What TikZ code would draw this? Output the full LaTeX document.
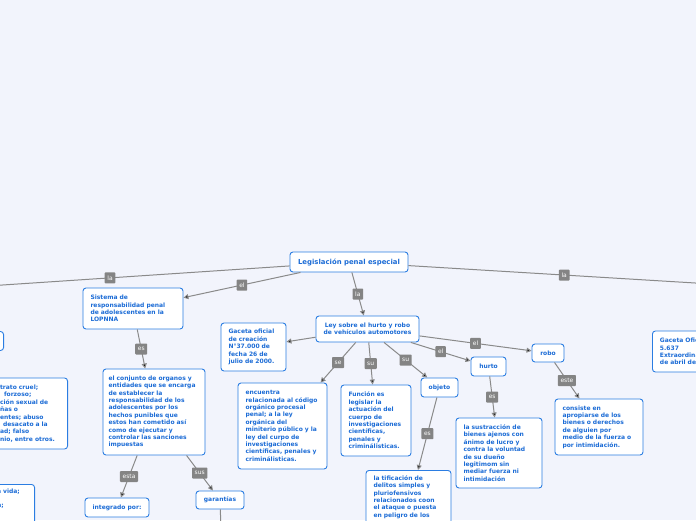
\documentclass[tikz,border=0pt]{standalone}
\usepackage{fontspec}
\setmainfont{DejaVu Sans}
\usetikzlibrary{arrows.meta}
\definecolor{bgcol}{RGB}{242,244,252}
\definecolor{boxblue}{RGB}{43,125,226}
\definecolor{txtblue}{RGB}{28,108,214}
\definecolor{linegray}{RGB}{138,138,138}
\definecolor{lblgray}{RGB}{132,132,132}

\begin{document}
\begin{tikzpicture}[x=1pt,y=-1pt,
                    main node/.style={draw=boxblue,fill=white,rounded corners=3pt,line width=0.9pt,
                      text=txtblue,font=\fontsize{6}{7.4}\selectfont\bfseries,align=left,
                      inner xsep=7.5pt,inner ysep=4pt},
                    label node/.style={fill=lblgray,text=white,font=\fontsize{6}{6.5}\selectfont,
                      inner xsep=2.6pt,inner ysep=1.8pt,minimum height=11pt,rounded corners=0.8pt},
                    link/.style={draw=linegray,line width=1pt},
                    head arrow/.style={-{Triangle[length=5pt,width=5pt]}}]

  \useasboundingbox (0,0) rectangle (696,520);
  \fill[bgcol] (0,0) rectangle (696,520);
  \clip (0,0) rectangle (696,520);

  \node[main node,align=center,minimum width=118pt,minimum height=20pt,
        font=\fontsize{6.9}{8}\selectfont\bfseries] (root) at (349,262) {Legislación penal especial};
  \node[main node,text width=85pt,minimum height=41pt] (sis) at (133,308.5)
    {Sistema de\\responsabilidad penal\\de adolescentes en la\\LOPNNA};
  \node[main node,align=center,minimum width=103pt,minimum height=26pt] (ley) at (367.5,329)
    {Ley sobre el hurto y robo\\de vehículos automotores};
  \node[main node,text width=50pt,minimum height=48pt] (gac) at (253.5,347)
    {Gaceta oficial\\de creación\\N°37.000 de\\fecha 26 de\\julio de 2000.};
  \node[main node,text width=85pt,minimum height=41pt,anchor=west] (gacext) at (652,351.5)
    {Gaceta Oficial\\5.637\\Extraordinaria\\de abril de};
  \node[main node,minimum width=40pt,minimum height=19pt,anchor=east] (leftbox) at (4,341) {};
  \node[main node,text width=60pt,minimum height=71pt,anchor=east] (delitos) at (68,413.5)
    {trato cruel;\\\hspace*{4pt}forzoso;\\ción sexual de\\ñas o\\entes; abuso\\\hspace*{3pt}desacato a la\\ad; falso\\nio, entre otros.};
  \node[main node,text width=30pt,anchor=north east] (vida) at (35,484)
    {a vida;\\\mbox{}\\n;\rule[-20pt]{0pt}{0pt}};
  \node[main node,text width=91pt,inner xsep=5.5pt,minimum height=86pt] (conj) at (154,412)
    {el conjunto de organos y\\entidades que se encarga\\de establecer la\\responsabilidad de los\\adolescentes por los\\hechos punibles que\\estos han cometido así\\como de ejecutar y\\controlar las sanciones\\impuestas};
  \node[main node,text width=74pt,minimum height=86pt] (enc) at (282.5,426)
    {encuentra\\relacionada al código\\orgánico procesal\\penal; a la ley\\orgánica del\\miniterio público y la\\ley del curpo de\\investigaciones\\científicas, penales y\\criminálisticas.};
  \node[main node,text width=55pt,minimum height=71pt] (fun) at (376,420.5)
    {Función es\\legislar la\\actuación del\\cuerpo de\\investigaciones\\científicas,\\penales y\\criminálisticas.};
  \node[main node,align=center,minimum width=37pt,minimum height=19pt] (obj) at (439.5,387.5) {objeto};
  \node[main node,align=center,minimum width=35pt,minimum height=19pt] (hur) at (488.5,366.5) {hurto};
  \node[main node,align=center,minimum width=32pt,minimum height=18pt] (rob) at (548,353) {robo};
  \node[main node,text width=71pt,minimum height=70pt] (sus) at (499,453)
    {la sustracción de\\bienes ajenos con\\ánimo de lucro y\\contra la voluntad\\de su dueño\\legitimom sin\\mediar fuerza ni\\intimidación};
  \node[main node,text width=73pt,minimum height=56pt] (cons) at (599,427)
    {consiste en\\apropiarse de los\\bienes o derechos\\de alguien por\\medio de la fuerza o\\por intimidación.};
  \node[main node,text width=70pt,inner ysep=5pt,anchor=north] (tip) at (408.5,470)
    {la tificación de\\delitos simples y\\pluriofensivos\\relacionados coon\\el ataque o puesta\\en peligro de los\rule[-30pt]{0pt}{0pt}};
  \node[main node,align=center,minimum width=64pt,minimum height=19pt] (int) at (117,507.5) {integrado por:};
  \node[main node,align=center,minimum width=48pt,minimum height=18pt] (gar) at (220,500) {garantías};

  \coordinate (offleft) at (-20,286.5);
  \coordinate (offright) at (720,284.5);
  \coordinate (garend) at (221,530);

  \path[link]
    (root) edge node[label node,pos=0.58] {la} (offleft)
    (root) edge node[label node] {la} (offright)
    (root) edge[head arrow] node[label node] {el} (sis)
    (root) edge[head arrow] node[label node] {la} (ley)
    (sis) edge[head arrow] node[label node] {es} (conj)
    (ley) edge[head arrow] (gac)
    (ley) edge[head arrow] node[label node] {se} (enc)
    (ley) edge[head arrow] node[label node] {su} (fun)
    (ley) edge[head arrow] node[label node] {su} (obj)
    (ley) edge[head arrow] node[label node] {el} (hur)
    (ley) edge[head arrow] node[label node] {el} (rob)
    (rob) edge[head arrow] node[label node] {este} (cons)
    (hur) edge[head arrow] node[label node] {es} (sus)
    (obj) edge[head arrow] node[label node] {es} ([xshift=9.5pt]tip.north)
    (conj) edge[head arrow] node[label node] {esta} (int)
    (conj) edge[head arrow] node[label node] {sus} (gar)
    (gar) edge (garend);
\end{tikzpicture}
\end{document}
